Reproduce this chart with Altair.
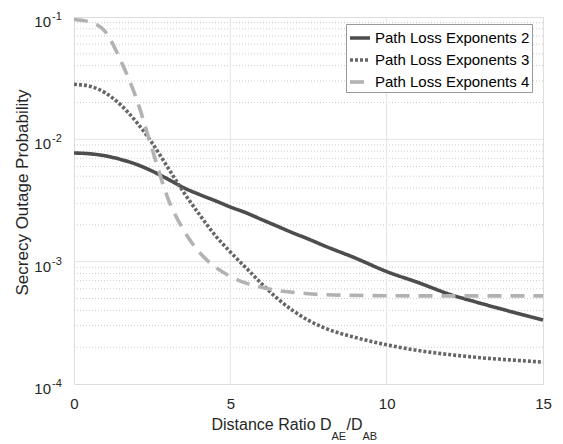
import altair as alt
import pandas as pd

# ---- data ----
x_ratio = [0, 0.5, 1, 1.5, 2, 2.5, 3, 3.5, 4, 4.5, 5, 5.5, 6, 6.5, 7, 7.5, 8, 9, 10, 11, 12, 13, 14, 15]
pl2 = [7.73e-3, 7.62e-3, 7.33e-3, 6.84e-3, 6.24e-3, 5.50e-3, 4.73e-3, 4.03e-3, 3.55e-3, 3.16e-3,
       2.80e-3, 2.51e-3, 2.21e-3, 1.95e-3, 1.72e-3, 1.53e-3, 1.35e-3, 1.07e-3, 8.3e-4, 6.76e-4,
       5.43e-4, 4.57e-4, 3.89e-4, 3.33e-4]
pl3 = [2.82e-2, 2.72e-2, 2.40e-2, 1.905e-2, 1.38e-2, 9.33e-3, 5.89e-3, 3.72e-3, 2.45e-3, 1.66e-3,
       1.20e-3, 8.91e-4, 6.61e-4, 5.01e-4, 3.98e-4, 3.31e-4, 2.88e-4, 2.40e-4, 2.09e-4, 1.88e-4,
       1.74e-4, 1.64e-4, 1.57e-4, 1.51e-4]
pl4 = [9.55e-2, 9.12e-2, 7.59e-2, 4.37e-2, 2.14e-2, 8.32e-3, 3.31e-3, 1.82e-3, 1.20e-3, 9.12e-4,
       7.59e-4, 6.68e-4, 6.17e-4, 5.82e-4, 5.62e-4, 5.47e-4, 5.37e-4, 5.30e-4, 5.27e-4, 5.25e-4,
       5.25e-4, 5.25e-4, 5.25e-4, 5.25e-4]
series_names = ["Path Loss Exponents 2", "Path Loss Exponents 3", "Path Loss Exponents 4"]
x_ticks = [0, 5, 10, 15]
y_major = [1e-4, 1e-3, 1e-2, 1e-1]
y_exp = ["-4", "-3", "-2", "-1"]
y_minor = [m * 10.0 ** e for e in (-4, -3, -2) for m in range(2, 10)]
x_title_parts = ["Distance Ratio D", "AE", "/D", "AB"]
x_title_sub = [0, 1, 0, 1]
x_title_dx = [-97, 23, 38, 54]

rows = []
for name, vals in zip(series_names, [pl2, pl3, pl4]):
    for xv, yv in zip(x_ratio, vals):
        rows.append({"x": xv, "y": yv, "series": name})
df = pd.DataFrame(rows)

W, H = 469, 367
FONT = "Liberation Sans"
TXT = "#262626"

xscale = alt.Scale(domain=[0, 15], nice=False, zero=False)
yscale = alt.Scale(type="log", domain=[1e-4, 1e-1], nice=False)
xaxis = alt.Axis(values=x_ticks, title=None, grid=False, labelFontSize=15,
                 labelColor=TXT, labelFont=FONT, tickSize=0, labelPadding=12,
                 domain=False, labelFlush=False)

minor = alt.Chart(pd.DataFrame({"y": y_minor})).mark_rule(
    color="#cccccc", strokeDash=[1, 2], strokeWidth=1
).encode(y=alt.Y("y:Q", scale=yscale, axis=None))

major_y = alt.Chart(pd.DataFrame({"y": y_major[1:-1]})).mark_rule(
    color="#e3e3e3", strokeWidth=1
).encode(y=alt.Y("y:Q", scale=yscale, axis=None))

major_x = alt.Chart(pd.DataFrame({"x": x_ticks[1:-1]})).mark_rule(
    color="#e3e3e3", strokeWidth=1
).encode(x=alt.X("x:Q", scale=xscale, axis=xaxis))

leg = alt.Legend(title=None, orient="none", legendX=272, legendY=7,
                 fillColor="white", strokeColor="#999999", padding=2,
                 labelFontSize=15, labelFont=FONT, labelColor="#000000",
                 symbolType="stroke", symbolStrokeWidth=3.6, symbolSize=400,
                 rowPadding=2, labelOffset=3, labelLimit=300)

lines = alt.Chart(df).mark_line(strokeWidth=3.6, interpolate="monotone").encode(
    x=alt.X("x:Q", scale=xscale, axis=xaxis),
    y=alt.Y("y:Q", scale=yscale, axis=None),
    color=alt.Color("series:N", sort=series_names,
                    scale=alt.Scale(domain=series_names, range=["#4d4d4d", "#666666", "#b2b2b2"]),
                    legend=leg),
    strokeDash=alt.StrokeDash("series:N", sort=series_names,
                              scale=alt.Scale(domain=series_names, range=[[1, 0], [3, 2], [14, 9]]),
                              legend=leg),
)

lab_df = pd.DataFrame({"y": y_major, "exp": y_exp, "base": ["10"] * 4})
ylab_base = alt.Chart(lab_df).mark_text(
    align="right", baseline="alphabetic", fontSize=15, font=FONT, color=TXT, dx=-23, dy=10
).encode(x=alt.value(0), y=alt.Y("y:Q", scale=yscale, axis=None), text="base:N")
ylab_exp = alt.Chart(lab_df).mark_text(
    align="left", baseline="alphabetic", fontSize=11, font=FONT, color=TXT, dx=-22, dy=3
).encode(x=alt.value(0), y=alt.Y("y:Q", scale=yscale, axis=None), text="exp:N")

xt_parts = []
for t, d, s in zip(x_title_parts, x_title_dx, x_title_sub):
    xt_parts.append(
        alt.Chart(pd.DataFrame({"t": [t]})).mark_text(
            align="left", baseline="alphabetic", fontSize=11 if s else 16, font=FONT,
            color=TXT, dx=d, dy=56 if s else 46
        ).encode(x=alt.value(W / 2), y=alt.value(H), text="t:N")
    )

ytitle = alt.Chart(pd.DataFrame({"t": ["Secrecy Outage Probability"]})).mark_text(
    angle=270, align="center", baseline="middle", fontSize=17, font=FONT, color=TXT
).encode(x=alt.value(-51), y=alt.value(H / 2 - 8), text="t:N")

chart = alt.layer(minor, major_y, major_x, lines, ylab_base, ylab_exp, ytitle, *xt_parts).properties(
    width=W, height=H,
    autosize=alt.AutoSizeParams(type="none"),
    padding={"left": 66, "top": 9, "right": 12, "bottom": 60},
).configure_view(stroke="#555555", strokeWidth=1).configure(background="white")

chart.save("out.html", embed_options={"renderer": "svg", "actions": False})
